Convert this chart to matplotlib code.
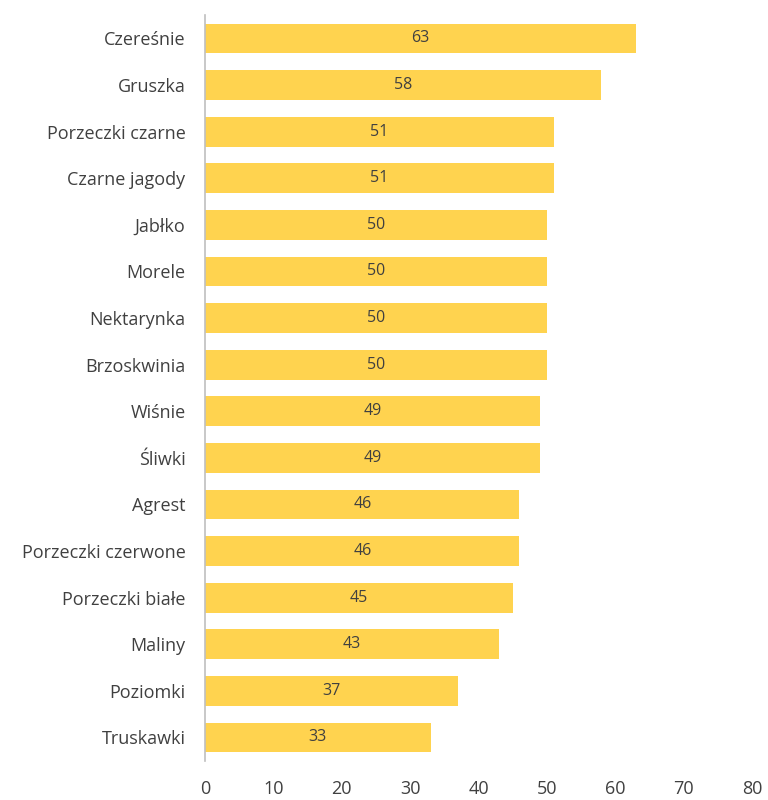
import matplotlib
matplotlib.use('Agg')
import matplotlib.pyplot as plt

# fruit names and their scores, top to bottom
fruits = ['Czereśnie', 'Gruszka', 'Porzeczki czarne', 'Czarne jagody', 'Jabłko',
          'Morele', 'Nektarynka', 'Brzoskwinia', 'Wiśnie', 'Śliwki', 'Agrest',
          'Porzeczki czerwone', 'Porzeczki białe', 'Maliny', 'Poziomki', 'Truskawki']
scores = [63, 58, 51, 51, 50, 50, 50, 50, 49, 49, 46, 46, 45, 43, 37, 33]
xticks = [0, 10, 20, 30, 40, 50, 60, 70, 80]

plt.rcParams['font.family'] = ['Open Sans', 'DejaVu Sans']
txt = '#404040'

fig = plt.figure(figsize=(7.68, 8.0), dpi=100)
ax = fig.add_axes([0.267, 0.049, 0.712, 0.932])

ypos = list(range(len(fruits)))
bars = ax.barh(ypos, scores, height=0.64, color='#FFD34F')
for b, v in zip(bars, scores):
    ax.text(v / 2, b.get_y() + b.get_height() / 2, str(v), ha='center', va='center',
            fontsize=11.5, color=txt)

ax.set_ylim(len(fruits) - 0.5, -0.5)
ax.set_xlim(0, 80)
ax.set_yticks(ypos)
ax.set_yticklabels(fruits, fontsize=13, color=txt)
ax.set_xticks(xticks)
ax.set_xticklabels([str(t) for t in xticks], fontsize=13, color=txt)
ax.tick_params(axis='both', length=0)
ax.tick_params(axis='y', pad=14)
ax.tick_params(axis='x', pad=14)

for s in ['top', 'right', 'bottom']:
    ax.spines[s].set_visible(False)
ax.spines['left'].set_color('#BFBFBF')
ax.spines['left'].set_linewidth(1.2)

fig.savefig('out.png', dpi=100)
